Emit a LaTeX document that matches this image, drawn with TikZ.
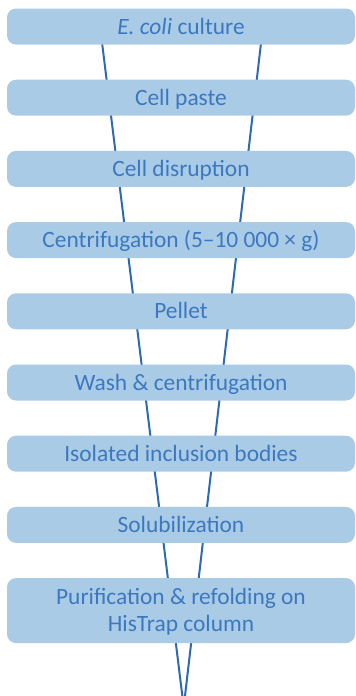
\documentclass[tikz,border=0pt]{standalone}
\usepackage{fontspec}
\setmainfont{Carlito}
\usepackage{xcolor}
\usetikzlibrary{positioning, calc}

\definecolor{stepfill}{HTML}{AACBE6}
\definecolor{steptext}{HTML}{3C78C0}
\definecolor{funnelblue}{HTML}{2E6AB4}

\begin{document}
\begin{tikzpicture}[
        x=1pt, y=-1pt,
        font=\fontsize{23.4}{27}\selectfont,
        stage/.style={fill=stepfill, text=steptext, rounded corners=9pt,
            minimum width=348pt, minimum height=36pt, inner sep=0pt,
            text height=15pt, text depth=0pt, align=center},
        node distance=34.8pt
    ]

        % Page frame
        \useasboundingbox (0,0) rectangle (356,696);

        % Funnel behind the steps
        \coordinate (funnelL) at (100,26);
        \coordinate (funnelR) at (263,26);
        \coordinate (apex) at (183.7,707);
        \draw[funnelblue, line width=2pt] (funnelL) -- (apex) -- (funnelR);

        % Process steps
        \node[stage] (culture) at (181,26.5) {\textit{E. coli} culture};
        \node[stage, below=of culture] (paste) {Cell paste};
        \node[stage, below=of paste] (disruption) {Cell disruption};
        \node[stage, below=of disruption] (spin) {Centrifugation (5–10~000 × g)};
        \node[stage, below=of spin] (pellet) {Pellet};
        \node[stage, below=of pellet] (wash) {Wash \& centrifugation};
        \node[stage, below=of wash] (bodies) {Isolated inclusion bodies};
        \node[stage, below=of bodies] (solub) {Solubilization};
        \node[stage, below=of solub, minimum height=65pt, text height=42pt] (histrap) {Purification \& refolding on\\HisTrap column};

    \end{tikzpicture}
\end{document}
